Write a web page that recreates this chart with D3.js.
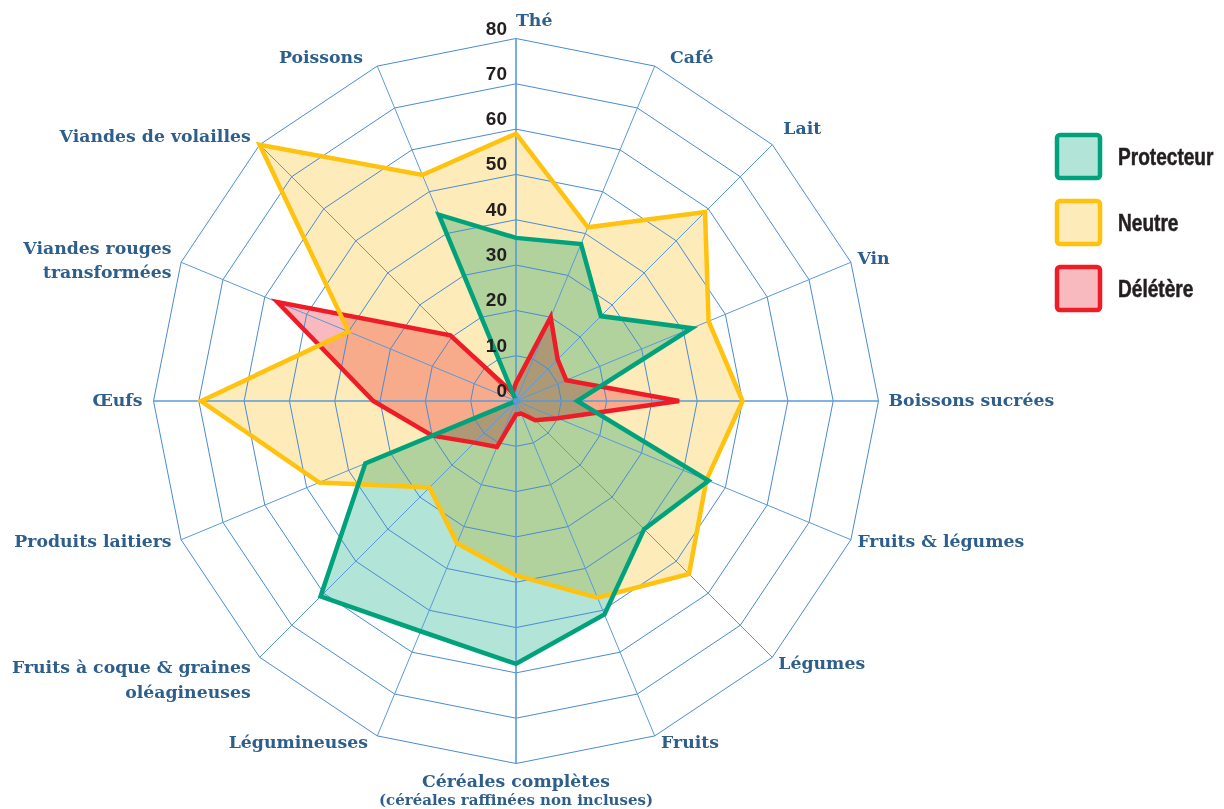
<!DOCTYPE html>
<html>
<head>
<meta charset="utf-8">
<script src="https://cdn.jsdelivr.net/npm/d3@7"></script>
<style>
  body { margin: 0; background: #fff; }
  .fill { mix-blend-mode: multiply; }
  .cat { font-family: "DejaVu Serif", serif; font-weight: bold; fill: #2e5f8c; }
  .tick { font-family: "Liberation Sans", Arial, sans-serif; font-weight: bold; fill: #231f20; font-size: 19px; }
  .leg { font-family: "Liberation Sans", Arial, sans-serif; font-weight: bold; fill: #231f20; stroke: #231f20; stroke-width: 0.5px; font-size: 23px; }
</style>
</head>
<body>
<div class="canvas"></div>
<script>
const categories = [
    ['Thé'], ['Café'], ['Lait'], ['Vin'], ['Boissons sucrées'], ['Fruits & légumes'],
    ['Légumes'], ['Fruits'], ['Céréales complètes', '(céréales raffinées non incluses)'],
    ['Légumineuses'], ['Fruits à coque & graines', 'oléagineuses'], ['Produits laitiers'],
    ['Œufs'], ['Viandes rouges', 'transformées'], ['Viandes de volailles'], ['Poissons']
];
const protecteur = [36, 37.5, 26.5, 42, 13.5, 46, 40, 51, 58, 55, 61, 36, 0, 0, 0, 44.5];
const neutre     = [59, 41.5, 59, 46, 50, 45.5, 54, 47, 38.5, 34, 27, 47, 69.5, 40, 80, 54];
const deletere   = [4, 20, 13, 12, 36, 10, 6, 3, 3, 11, 13, 20, 31.5, 57, 20.5, 2];
const tickValues = [0, 10, 20, 30, 40, 50, 60, 70, 80];
const seriesNames = ['Protecteur', 'Neutre', 'Délétère'];

const width = 1224;
const height = 809;
const cx = 516, cy = 401, R = 362.5;

const colors = {
    Protecteur: {stroke: '#00a27b', fill: '#b3e4d8'},
    Neutre: {stroke: '#ffc20f', fill: '#fdebb9'},
    'Délétère': {stroke: '#ee1c27', fill: '#f9babf'}
};

// label nudges from the outer ring point: [dx, dy, anchor]
const labelLayout = [
    [0, -18.5, 'start'], [15.4, -9.5, 'start'], [11, -16.5, 'start'], [6.5, -4.5, 'start'],
    [10, -1, 'start'], [6.5, 1.5, 'start'], [6, 6, 'start'], [6.4, 6.5, 'start'],
    [0, 17.5, 'middle'], [-9.4, 6.5, 'end'], [-9, 10, 'end'], [-9.5, 1.5, 'end'],
    [-11, -1, 'end'], [-9.5, -14.5, 'end'], [-9, -9, 'end'], [-14.4, -9.5, 'end']
];

const svg = d3.select('.canvas')
    .append('svg')
    .attr('width', width)
    .attr('height', height);

const graph = svg.append('g')
    .attr('transform', `translate(${cx}, ${cy})`);

const r = d3.scaleLinear().domain([0, 80]).range([0, R]);
const angle = d3.scaleLinear().domain([0, categories.length]).range([0, 2 * Math.PI]);

const radial = d3.lineRadial()
    .angle((d, i) => angle(i))
    .radius(d => r(d))
    .curve(d3.curveLinearClosed);

const point = (i, v) => [Math.sin(angle(i)) * r(v), -Math.cos(angle(i)) * r(v)];

////////// FILLS ///////////////////
const series = [
    {name: 'Délétère', values: deletere},
    {name: 'Neutre', values: neutre},
    {name: 'Protecteur', values: protecteur}
];

graph.selectAll('path.fill')
    .data(series)
    .enter()
    .append('path')
    .attr('class', 'fill')
    .attr('d', d => radial(d.values))
    .attr('fill', d => colors[d.name].fill);

////////// GRID ///////////////////
const grid = graph.append('g');

grid.selectAll('path.ring')
    .data(tickValues.slice(1))
    .enter()
    .append('path')
    .attr('class', 'ring')
    .attr('d', t => radial(categories.map(() => t)))
    .attr('fill', 'none')
    .attr('stroke', '#4a8bd2')
    .attr('stroke-width', 1);

grid.selectAll('line.spoke')
    .data(categories)
    .enter()
    .append('line')
    .attr('class', 'spoke')
    .attr('x1', 0)
    .attr('y1', 0)
    .attr('x2', (d, i) => point(i, 80)[0])
    .attr('y2', (d, i) => point(i, 80)[1])
    .attr('stroke', '#5a9ad8')
    .attr('stroke-width', (d, i) => i % 4 === 0 ? 1.6 : 1);

////////// STROKES ///////////////////
graph.selectAll('path.outline')
    .data(series)
    .enter()
    .append('path')
    .attr('class', 'outline')
    .attr('d', d => radial(d.values))
    .attr('fill', 'none')
    .attr('stroke', d => colors[d.name].stroke)
    .attr('stroke-width', 4.5)
    .attr('stroke-linejoin', 'miter');

graph.append('circle')
    .attr('r', 3)
    .attr('fill', '#5a9ad8');

////////// TICK LABELS ///////////////////
graph.selectAll('text.tick')
    .data(tickValues)
    .enter()
    .append('text')
    .attr('class', 'tick')
    .attr('x', -9)
    .attr('y', t => -r(t) - 4)
    .attr('text-anchor', 'end')
    .text(t => t);

////////// CATEGORY LABELS ///////////////////
const cats = graph.selectAll('text.cat')
    .data(categories)
    .enter()
    .append('text')
    .attr('class', 'cat')
    .attr('text-anchor', (d, i) => labelLayout[i][2])
    .attr('x', (d, i) => point(i, 80)[0] + labelLayout[i][0])
    .attr('y', (d, i) => point(i, 80)[1] + labelLayout[i][1])
    .attr('font-size', 17.3);

cats.each(function(d, i) {
    const t = d3.select(this);
    d.forEach((line, j) => {
        t.append('tspan')
            .attr('x', point(i, 80)[0] + labelLayout[i][0])
            .attr('dy', j === 0 ? '0.35em' : (i === 8 ? '18' : '24.5'))
            .attr('font-size', i === 8 && j === 1 ? 15 : 17.3)
            .text(line);
    });
});

////////// LEGEND ///////////////////
const legend = svg.append('g')
    .attr('transform', 'translate(1057, 135)');

const items = legend.selectAll('g')
    .data(seriesNames)
    .enter()
    .append('g')
    .attr('transform', (d, i) => `translate(0, ${i * 66})`);

items.append('rect')
    .attr('width', 43)
    .attr('height', 43)
    .attr('rx', 3)
    .attr('fill', d => colors[d].fill)
    .attr('stroke', d => colors[d].stroke)
    .attr('stroke-width', 4.5);

// condensed look: squeeze the bold sans horizontally
items.append('text')
    .attr('class', 'leg')
    .attr('transform', 'translate(61, 22) scale(0.83, 1)')
    .attr('dy', '0.35em')
    .text(d => d);
</script>
</body>
</html>
